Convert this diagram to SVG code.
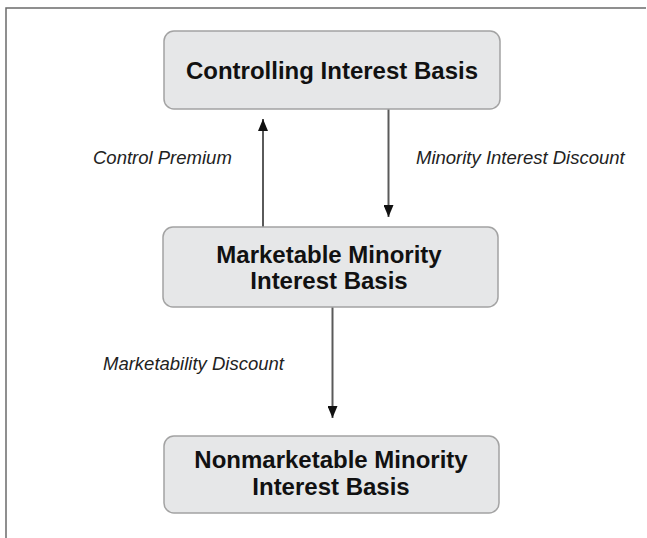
<svg xmlns="http://www.w3.org/2000/svg" width="647" height="538" viewBox="0 0 647 538">
  <style>
    .box { fill: #e6e7e8; stroke: #a3a3a3; stroke-width: 1.5; }
    .title { font-family: "Liberation Sans", Arial, sans-serif; font-weight: bold; font-size: 24px; fill: #111; text-anchor: middle; }
    .label { font-family: "Liberation Sans", Arial, sans-serif; font-style: italic; font-size: 18.5px; fill: #222; }
    .edge { stroke: #5a5a5a; stroke-width: 2; fill: none; marker-end: url(#head); }
    .frame { stroke: #6b6b6b; stroke-width: 1.5; fill: none; }
  </style>
  <defs>
    <marker id="head" viewBox="0 0 12 10" refX="12" refY="5" markerWidth="12" markerHeight="10" markerUnits="userSpaceOnUse" orient="auto">
      <path d="M0,0 L12,5 L0,10 z" fill="#111"/>
    </marker>
  </defs>

  <rect width="647" height="538" fill="#ffffff"/>
  <!-- open frame: top and left rules -->
  <path class="frame" d="M6,538 V8 H646"/>

  <g id="connectors">
    <line class="edge" x1="263" y1="227" x2="263" y2="119"/>
    <line class="edge" x1="388.5" y1="109" x2="388.5" y2="217"/>
    <line class="edge" x1="332.5" y1="307" x2="332.5" y2="418"/>
    <text class="label" x="93" y="163.5">Control Premium</text>
    <text class="label" x="416" y="164">Minority Interest Discount</text>
    <text class="label" x="103" y="370">Marketability Discount</text>
  </g>

  <g id="controlling">
    <rect class="box" x="164" y="31" width="336" height="78" rx="10"/>
    <text class="title" x="332" y="79">Controlling Interest Basis</text>
  </g>

  <g id="marketable-minority">
    <rect class="box" x="163" y="227" width="335" height="80" rx="10"/>
    <text class="title" x="329" y="263">Marketable Minority</text>
    <text class="title" x="329" y="289">Interest Basis</text>
  </g>

  <g id="nonmarketable-minority">
    <rect class="box" x="164" y="436" width="335" height="77" rx="10"/>
    <text class="title" x="331" y="468">Nonmarketable Minority</text>
    <text class="title" x="331" y="495">Interest Basis</text>
  </g>
</svg>
